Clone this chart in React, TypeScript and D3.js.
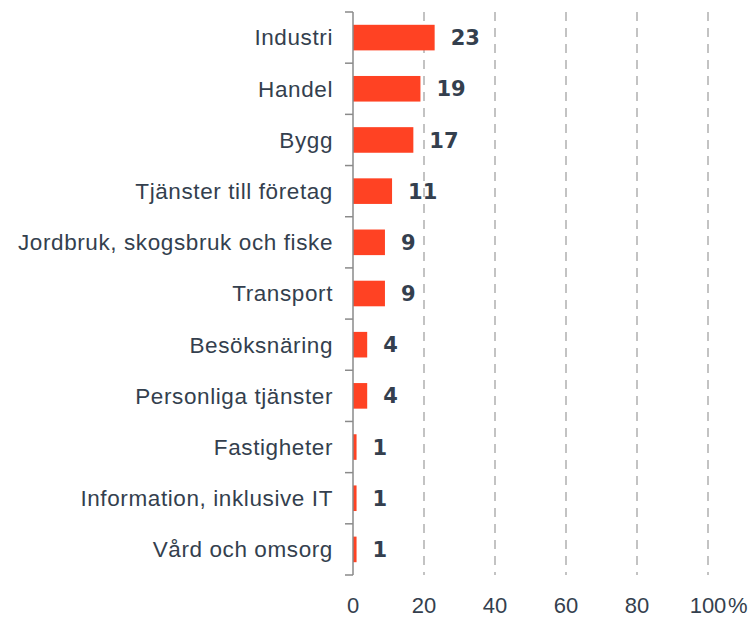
import React from "react";
import * as d3 from "d3";

const categories = [
  "Industri",
  "Handel",
  "Bygg",
  "Tjänster till företag",
  "Jordbruk, skogsbruk och fiske",
  "Transport",
  "Besöksnäring",
  "Personliga tjänster",
  "Fastigheter",
  "Information, inklusive IT",
  "Vård och omsorg",
];
const values = [23, 19, 17, 11, 9, 9, 4, 4, 1, 1, 1];
const tickValues = [0, 20, 40, 60, 80, 100];

const W = 756;
const H = 617;
const margin = { left: 353, right: 48, top: 12, bottom: 42 };

export default function App() {
  const x = d3
    .scaleLinear()
    .domain([0, 100])
    .range([margin.left, W - margin.right]);
  const y = d3
    .scaleBand<string>()
    .domain(categories)
    .range([margin.top, H - margin.bottom])
    .paddingInner(0.5)
    .paddingOuter(0.25);
  const boundaries = d3.range(categories.length + 1).map(
    (i) => margin.top + i * ((H - margin.bottom - margin.top) / categories.length)
  );
  const textColor = "#343f4e";
  return (
    <svg
      width={W}
      height={H}
      style={{ position: "absolute", left: 0, top: 0, background: "#fff" }}
    >
      {tickValues
        .filter((t) => t > 0)
        .map((t) => (
          <line
            key={"g" + t}
            x1={x(t)}
            x2={x(t)}
            y1={margin.top}
            y2={H - margin.bottom}
            stroke="#c3c3c3"
            strokeWidth={2}
            strokeDasharray="9,7"
          />
        ))}
      {categories.map((c, i) => (
        <rect
          key={"b" + c}
          x={x(0)}
          y={y(c)!}
          width={x(values[i]) - x(0)}
          height={y.bandwidth()}
          fill="#ff4223"
        />
      ))}
      <line
        x1={x(0)}
        x2={x(0)}
        y1={margin.top}
        y2={H - margin.bottom}
        stroke="#8a8a8a"
        strokeWidth={1.5}
      />
      {boundaries.map((b, i) => (
        <line
          key={"t" + i}
          x1={x(0) - 8}
          x2={x(0)}
          y1={b}
          y2={b}
          stroke="#8a8a8a"
          strokeWidth={1.5}
        />
      ))}
      {categories.map((c) => (
        <text
          key={"l" + c}
          x={333}
          y={y(c)! + y.bandwidth() / 2}
          dy="0.35em"
          textAnchor="end"
          fontFamily="'Liberation Sans', Arial, sans-serif"
          fontSize={22.5}
          letterSpacing={0.6}
          fill={textColor}
        >
          {c}
        </text>
      ))}
      {categories.map((c, i) => (
        <text
          key={"v" + c}
          x={x(values[i]) + 16}
          y={y(c)! + y.bandwidth() / 2}
          dy="0.36em"
          fontFamily="'DejaVu Sans', sans-serif"
          fontWeight={700}
          fontSize={21}
          fill={textColor}
        >
          {values[i]}
        </text>
      ))}
      {tickValues.map((t) => (
        <text
          key={"x" + t}
          x={x(t)}
          y={613}
          textAnchor="middle"
          fontFamily="'Liberation Sans', Arial, sans-serif"
          fontSize={22}
          fill={textColor}
        >
          {t}
        </text>
      ))}
      <text
        x={x(100) + 20}
        y={613}
        fontFamily="'Liberation Sans', Arial, sans-serif"
        fontSize={22}
        fill={textColor}
      >
        %
      </text>
    </svg>
  );
}
